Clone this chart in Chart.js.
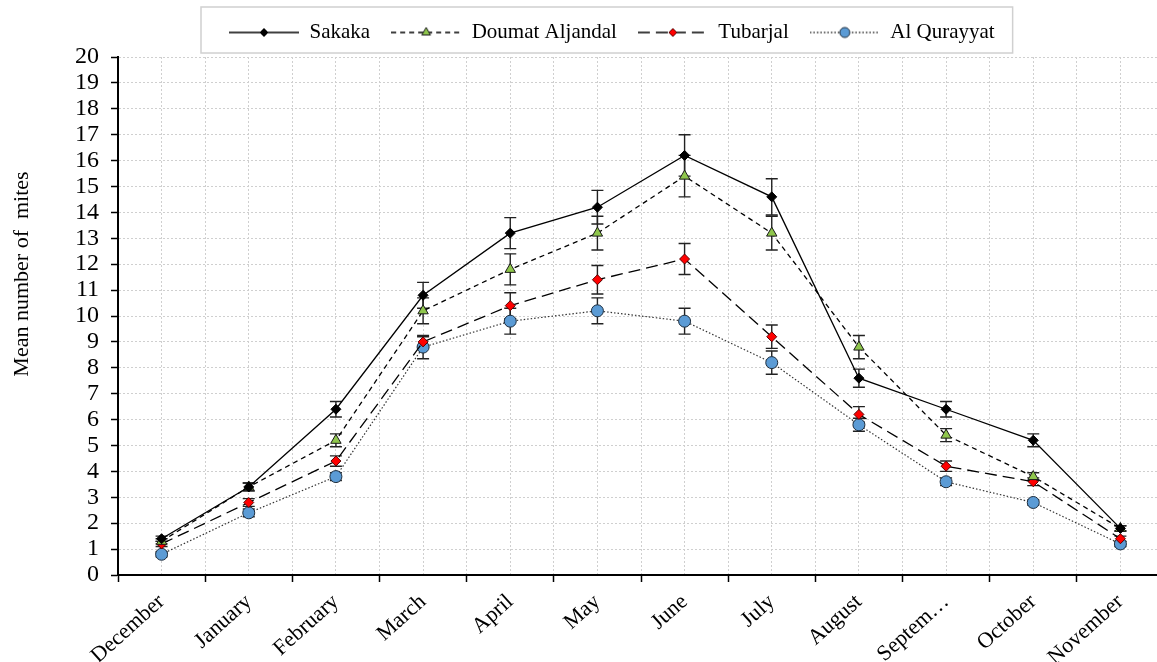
<!DOCTYPE html>
<html>
<head>
<meta charset="utf-8">
<script src="https://cdn.jsdelivr.net/npm/chart.js@4.4.1/dist/chart.umd.min.js"></script>
<style>
  html, body { margin: 0; padding: 0; background: #fff; overflow: hidden; }
  #chart { display: block; }
</style>
</head>
<body>
<canvas id="chart" width="1171" height="662" style="width:1171px;height:662px"></canvas>
<script>
// --- dados ---
const months = ['December', 'January', 'February', 'March', 'April', 'May', 'June', 'July', 'August', 'Septem…', 'October', 'November'];
const yTicks = [0, 20, 1]; // min, max, passo

const sakaka      = [1.4, 3.4, 6.4, 10.8, 13.2, 14.2, 16.2, 14.6, 7.6, 6.4, 5.2, 1.8];
const sakakaErr   = [0.1, 0.15, 0.3, 0.5, 0.6, 0.65, 0.8, 0.7, 0.35, 0.3, 0.25, 0.1];
const doumat      = [1.3, 3.4, 5.2, 10.2, 11.8, 13.2, 15.4, 13.2, 8.8, 5.4, 3.8, 1.8];
const doumatErr   = [0.1, 0.15, 0.25, 0.5, 0.6, 0.65, 0.8, 0.65, 0.45, 0.25, 0.15, 0.1];
const tubarjal    = [1.2, 2.8, 4.4, 9.0, 10.4, 11.4, 12.2, 9.2, 6.2, 4.2, 3.6, 1.4];
const tubarjalErr = [0.1, 0.15, 0.2, 0.2, 0.5, 0.55, 0.6, 0.45, 0.3, 0.2, 0.15, 0.1];
const qurayyat    = [0.8, 2.4, 3.8, 8.8, 9.8, 10.2, 9.8, 8.2, 5.8, 3.6, 2.8, 1.2];
const qurayyatErr = [0.1, 0.15, 0.15, 0.45, 0.5, 0.5, 0.5, 0.45, 0.25, 0.15, 0.1, 0.1];

const FONT = "'Liberation Serif', 'Times New Roman', serif";
const ICON_W = 70;

const series = [
    { label: 'Sakaka', values: sakaka, errors: sakakaErr, dash: [], color: '#000', width: 1.3,
      marker: 'rectRot', radius: 5, fill: '#000', border: '#000' },
    { label: 'Doumat Aljandal', values: doumat, errors: doumatErr, dash: [5, 4], color: '#000', width: 1.3,
      marker: 'triangle', radius: 6, fill: '#8fc64c', border: '#1a1a1a' },
    { label: 'Tubarjal', values: tubarjal, errors: tubarjalErr, dash: [12, 6], color: '#000', width: 1.3,
      marker: 'rectRot', radius: 5, fill: '#ff0000', border: '#5a0000' },
    { label: 'Al Qurayyat', values: qurayyat, errors: qurayyatErr, dash: [1.5, 2], color: '#333', width: 1.2,
      marker: 'circle', radius: 6, fill: '#5b9bd5', border: '#1c2c3c' }
];

// ícone da legenda: linha + marcador
function legendIcon(s) {
    const c = document.createElement('canvas');
    c.width = ICON_W; c.height = 16;
    const g = c.getContext('2d');
    g.strokeStyle = s.color;
    g.lineWidth = 1.3;
    g.setLineDash(s.dash);
    g.beginPath(); g.moveTo(0, 8); g.lineTo(ICON_W, 8); g.stroke();
    g.setLineDash([]);
    g.fillStyle = s.fill;
    g.strokeStyle = s.border;
    g.lineWidth = 1;
    Chart.helpers.drawPoint(g, { pointStyle: s.marker, radius: s.radius - 1, borderWidth: 1, rotation: 0 }, ICON_W / 2, 8);
    return c;
}

const errorBars = {
    id: 'errorBars',
    beforeDatasetsDraw(chart) {
        const { ctx, scales: { x, y } } = chart;
        ctx.save();
        ctx.strokeStyle = '#222';
        ctx.lineWidth = 1.4;
        series.forEach(s => {
            s.values.forEach((v, i) => {
                const px = x.getPixelForValue(i);
                const top = y.getPixelForValue(v + s.errors[i]);
                const bot = y.getPixelForValue(v - s.errors[i]);
                ctx.beginPath();
                ctx.moveTo(px, top); ctx.lineTo(px, bot);
                ctx.moveTo(px - 6, top); ctx.lineTo(px + 6, top);
                ctx.moveTo(px - 6, bot); ctx.lineTo(px + 6, bot);
                ctx.stroke();
            });
        });
        ctx.restore();
    }
};

const frame = {
    id: 'frame',
    afterLayout(chart) {
        // desloca a legenda para a posição do original
        const lg = chart.legend;
        const dx = 229 - (lg.left + lg.right + lg.options.labels.padding - lg.lineWidths[0]) / 2;
        lg.left += dx; lg.right += dx;
        lg.top -= 4; lg.bottom -= 4;
    },
    afterDraw(chart) {
        const { ctx } = chart;
        const hb = chart.legend.legendHitBoxes;
        if (hb && hb.length) {
            const last = hb[hb.length - 1];
            const left = hb[0].left - 28;
            ctx.save();
            ctx.strokeStyle = '#d0d0d0';
            ctx.lineWidth = 1.5;
            ctx.strokeRect(left, 7, last.left + last.width + 18 - left, 46);
            ctx.restore();
        }
        // título do eixo Y
        ctx.save();
        ctx.translate(22, 274);
        ctx.rotate(-Math.PI / 2);
        ctx.font = `22px ${FONT}`;
        ctx.fillStyle = '#000';
        ctx.textAlign = 'center';
        ctx.textBaseline = 'middle';
        ctx.fillText('Mean number of  mites', 0, 0);
        ctx.restore();
    }
};

const icons = series.map(legendIcon);

new Chart(document.getElementById('chart'), {
    type: 'line',
    data: {
        datasets: series.map(s => ({
            label: s.label,
            data: s.values.map((v, i) => ({ x: i, y: v })),
            borderColor: s.color,
            borderWidth: s.width,
            borderDash: s.dash,
            tension: 0,
            fill: false,
            pointStyle: s.marker,
            pointRadius: s.radius,
            pointBackgroundColor: s.fill,
            pointBorderColor: s.border,
            pointBorderWidth: 1
        }))
    },
    options: {
        responsive: false,
        animation: false,
        devicePixelRatio: 1,
        layout: { padding: { top: 5, left: 0, right: 0, bottom: 0 } },
        plugins: {
            tooltip: { enabled: false },
            legend: {
                position: 'top',
                labels: {
                    usePointStyle: true,
                    pointStyleWidth: ICON_W,
                    padding: 21,
                    color: '#000',
                    font: { family: FONT, size: 21 },
                    generateLabels: chart => chart.data.datasets.map((ds, i) => ({
                        text: ds.label,
                        pointStyle: icons[i],
                        datasetIndex: i,
                        hidden: false,
                        lineWidth: 0,
                        strokeStyle: 'transparent',
                        fillStyle: 'transparent',
                        fontColor: '#000'
                    }))
                }
            }
        },
        scales: {
            x: {
                type: 'linear',
                min: -0.5,
                max: months.length - 0.5,
                afterFit: scale => { scale.height = 87; scale.paddingLeft = 0; scale.paddingRight = 0; },
                afterBuildTicks: scale => {
                    const t = [];
                    for (let i = 0; i <= months.length * 2; i++) t.push({ value: -0.5 + i * 0.5 });
                    scale.ticks = t;
                },
                ticks: {
                    autoSkip: false,
                    minRotation: 42,
                    maxRotation: 42,
                    padding: 7,
                    color: '#000',
                    font: { family: FONT, size: 22 },
                    callback: v => Number.isInteger(v) ? months[v] : ''
                },
                grid: {
                    color: '#cfcfcf',
                    lineWidth: 1,
                    tickLength: 7,
                    tickWidth: 1.5,
                    tickColor: c => (c.tick && !Number.isInteger(c.tick.value)) ? '#000' : 'rgba(0,0,0,0)'
                },
                border: { color: '#000', width: 2, dash: [2, 2] }
            },
            y: {
                min: yTicks[0],
                max: yTicks[1],
                afterFit: scale => { scale.width = 118; },
                ticks: {
                    stepSize: yTicks[2],
                    autoSkip: false,
                    padding: 12,
                    color: '#000',
                    font: { family: FONT, size: 24 }
                },
                grid: {
                    color: '#cfcfcf',
                    lineWidth: 1,
                    tickLength: 7,
                    tickWidth: 1.5,
                    tickColor: '#000'
                },
                border: { color: '#000', width: 2, dash: [2, 2] }
            }
        }
    },
    plugins: [errorBars, frame]
});
</script>
</body>
</html>
